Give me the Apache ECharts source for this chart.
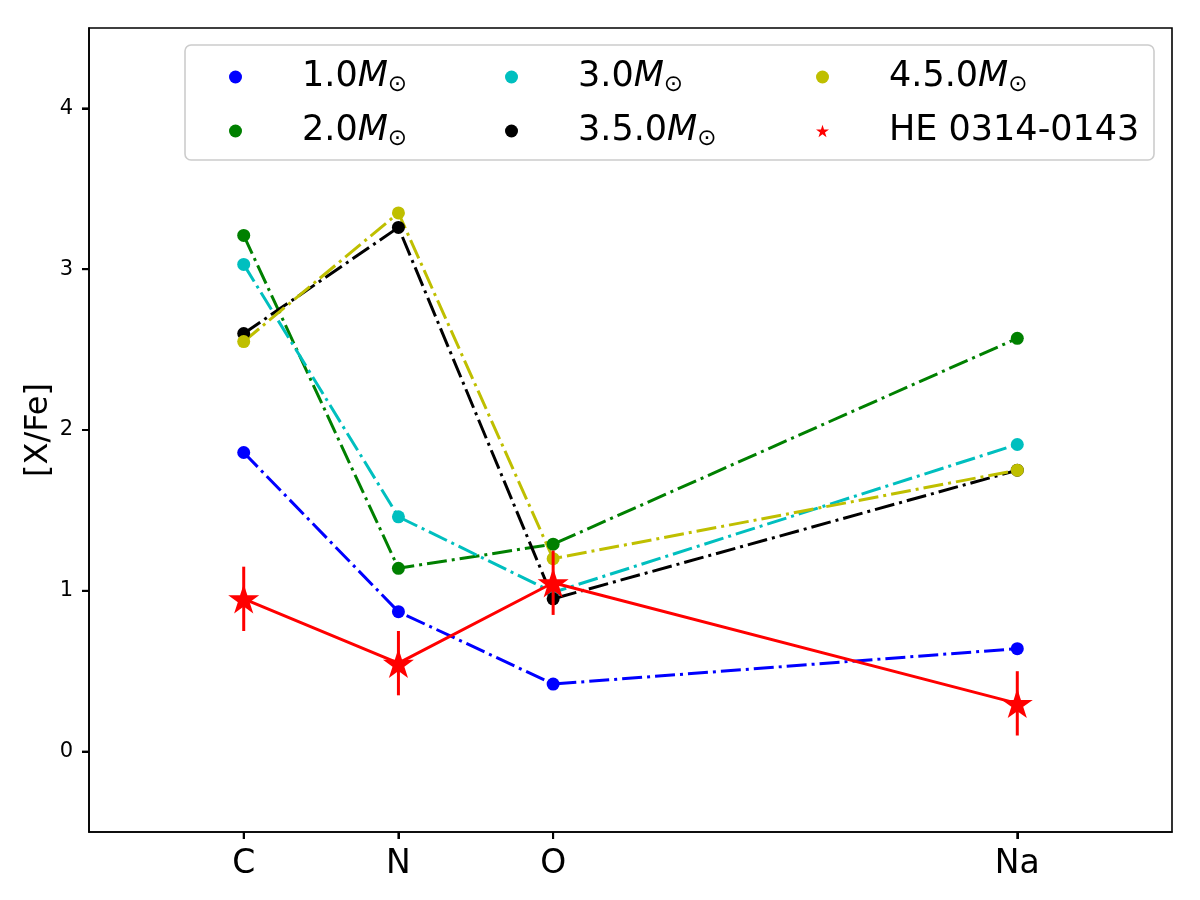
<!DOCTYPE html>
<html>
<head>
<meta charset="utf-8">
<script src="https://cdn.jsdelivr.net/npm/echarts@6/dist/echarts.min.js"></script>
<style>html,body{margin:0;padding:0;background:#fff}#c{width:1200px;height:900px}</style>
</head>
<body>
<div id="c"></div>
<script>
// ---- data ----
const elements = ['C', 'N', 'O', 'Na'];
const atomicNumbers = [6, 7, 8, 11];
const yTicks = [0, 1, 2, 3, 4];
const massLabels = ['1.0', '2.0', '3.0', '3.5.0', '4.5.0'];
const m10 = [1.86, 0.87, 0.42, 0.64];
const m20 = [3.21, 1.14, 1.29, 2.57];
const m30 = [3.03, 1.46, 0.99, 1.91];
const m35 = [2.60, 3.26, 0.95, 1.75];
const m45 = [2.55, 3.35, 1.20, 1.75];
const starName = 'HE 0314-0143';
const starVals = [0.95, 0.55, 1.05, 0.30];
const starErr = [0.2, 0.2, 0.2, 0.2];

// ---- styles ----
const colors = ['#0000ff', '#008000', '#00bfbf', '#000000', '#bfbf00'];
const FONT = 'DejaVu Sans';
const TICK_LEN = 7;

function starPath() {
  const pts = [];
  for (let i = 0; i < 10; i++) {
    const r = i % 2 === 0 ? 1 : 0.381966;
    const a = (90 + 36 * i) * Math.PI / 180;
    pts.push((r * Math.cos(a)).toFixed(4) + ' ' + (-r * Math.sin(a)).toFixed(4));
  }
  return 'path://M' + pts.join(' L') + ' Z';
}
const STAR = starPath();

const modelSets = [m10, m20, m30, m35, m45];
function pairs(vals) { return atomicNumbers.map((x, i) => [x, vals[i]]); }

const series = modelSets.map((vals, k) => ({
  name: massLabels[k],
  type: 'line',
  data: pairs(vals),
  symbol: 'circle',
  symbolSize: 13,
  showSymbol: true,
  color: colors[k],
  itemStyle: { color: colors[k] },
  lineStyle: { color: colors[k], width: 3, type: [20, 5, 3, 5] },
  emphasis: { disabled: true },
  z: 2
}));

series.push({
  name: starName,
  type: 'line',
  data: pairs(starVals),
  symbol: STAR,
  symbolSize: 31,
  symbolKeepAspect: true,
  color: '#ff0000',
  itemStyle: { color: '#ff0000' },
  lineStyle: { color: '#ff0000', width: 3, type: 'solid' },
  emphasis: { disabled: true },
  z: 2
});

series.push({
  name: starName + ' err',
  type: 'custom',
  data: atomicNumbers.map((x, i) => [x, starVals[i], starErr[i]]),
  renderItem: function (params, api) {
    const x = api.value(0), y = api.value(1), e = api.value(2);
    const p1 = api.coord([x, y - e]);
    const p2 = api.coord([x, y + e]);
    return {
      type: 'line',
      shape: { x1: p1[0], y1: p1[1], x2: p2[0], y2: p2[1] },
      style: { stroke: '#ff0000', lineWidth: 3 }
    };
  },
  z: 3,
  silent: true
});

// outward tick marks placed through the axes' scales
series.push({
  name: 'xticks',
  type: 'custom',
  clip: false,
  silent: true,
  data: atomicNumbers.map(v => [v, yTicks[0]]),
  renderItem: function (params, api) {
    const p = api.coord([api.value(0), api.value(1)]);
    const yb = params.coordSys.y + params.coordSys.height;
    return { type: 'line', shape: { x1: p[0], y1: yb, x2: p[0], y2: yb + TICK_LEN }, style: { stroke: '#000', lineWidth: 2 } };
  },
  z: 1
});
series.push({
  name: 'yticks',
  type: 'custom',
  clip: false,
  silent: true,
  data: yTicks.map(v => [atomicNumbers[0], v]),
  renderItem: function (params, api) {
    const p = api.coord([api.value(0), api.value(1)]);
    const xl = params.coordSys.x;
    return { type: 'line', shape: { x1: xl - TICK_LEN, y1: p[1], x2: xl, y2: p[1] }, style: { stroke: '#000', lineWidth: 2 } };
  },
  z: 1
});

const LF = 35;
const rich = {
  n: { fontSize: LF, fontFamily: FONT, color: '#000', padding: [0, 0, 0, 55] },
  m: { fontSize: LF, fontFamily: FONT, fontStyle: 'italic', color: '#000' },
  s: { fontSize: 23, fontFamily: FONT, color: '#000', verticalAlign: 'bottom', padding: [14, 0, 0, 0] }
};
function legendFormatter(name) {
  if (name === starName) return '{n|' + name + '}';
  return '{n|' + name + '}{m|M}{s|⊙}';
}
function makeLegend(left, names) {
  return {
    orient: 'vertical',
    left: left,
    top: 57,
    itemWidth: 13,
    itemHeight: 13,
    itemGap: 14,
    padding: 0,
    selectedMode: false,
    data: names.map(n => ({ name: n, icon: n === starName ? STAR : 'circle' })),
    formatter: legendFormatter,
    textStyle: { fontSize: LF, fontFamily: FONT, color: '#000', lineHeight: 40, rich: rich },
    z: 5
  };
}

const option = {
  animation: false,
  grid: { left: 89, right: 28, top: 28, bottom: 68, show: true, borderColor: '#000', borderWidth: 1.6 },
  xAxis: {
    type: 'value',
    min: 5, max: 12,
    position: 'bottom',
    splitLine: { show: false },
    axisLine: { show: true, onZero: false, lineStyle: { color: '#000', width: 1.6 } },
    axisTick: { show: true, length: TICK_LEN, customValues: atomicNumbers, lineStyle: { color: '#000', width: 2 } },
    axisLabel: {
      customValues: atomicNumbers,
      formatter: v => { const i = atomicNumbers.indexOf(v); return i >= 0 ? elements[i] : ''; },
      fontSize: 33, fontFamily: FONT, color: '#000', margin: 16
    }
  },
  yAxis: {
    type: 'value',
    min: -0.5, max: 4.5,
    name: '[X/Fe]',
    nameLocation: 'middle',
    nameGap: 34,
    nameMoveOverlap: false,
    nameTextStyle: { fontSize: 32, fontFamily: FONT, color: '#000' },
    splitLine: { show: false },
    axisLine: { show: true, onZero: false, lineStyle: { color: '#000', width: 1.6 } },
    axisTick: { show: true, length: TICK_LEN, customValues: yTicks, lineStyle: { color: '#000', width: 2 } },
    axisLabel: { customValues: yTicks, fontSize: 21, fontFamily: FONT, color: '#000', margin: 16 }
  },
  legend: [
    makeLegend(229, [massLabels[0], massLabels[1]]),
    makeLegend(505, [massLabels[2], massLabels[3]]),
    makeLegend(816, [massLabels[4], starName])
  ],
  graphic: [{
    type: 'rect',
    shape: { x: 185, y: 45, width: 969, height: 115, r: 6 },
    style: { fill: 'rgba(255,255,255,0.8)', stroke: '#cccccc', lineWidth: 1.6 },
    z: 4,
    silent: true
  }],
  series: series
};

const chart = echarts.init(document.getElementById('c'), null, { renderer: 'canvas' });
chart.setOption(option);
</script>
</body>
</html>
